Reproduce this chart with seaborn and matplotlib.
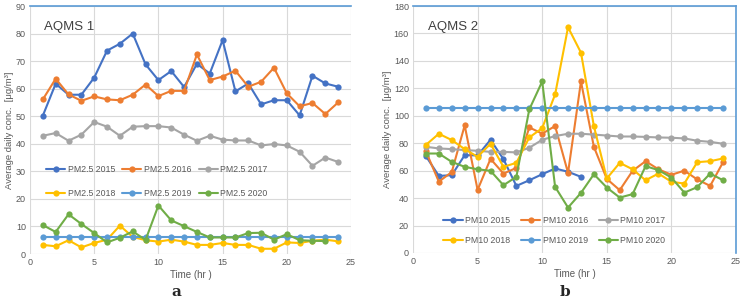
import numpy as np
import pandas as pd
import matplotlib
matplotlib.use("Agg")
import matplotlib.pyplot as plt
import seaborn as sns

hours = list(range(1, 25))
nan = np.nan

# AQMS 1 - PM2.5
pm25_2015 = [50.2, 61.8, 57.8, 57.8, 64.0, 73.8, 76.3, 80.0, 68.8, 63.1, 66.4, 60.6,
             69.0, 65.5, 77.6, 59.0, 61.9, 54.3, 55.8, 55.8, 50.3, 64.7, 61.9, 60.7]
pm25_2016 = [56.1, 63.6, 57.9, 55.6, 57.2, 56.1, 55.8, 57.8, 61.5, 57.3, 59.2, 59.2,
             72.4, 63.1, 64.4, 66.5, 60.7, 62.5, 67.6, 58.3, 53.6, 54.8, 50.8, 55.0]
pm25_2017 = [42.9, 43.9, 41.1, 43.3, 47.9, 46.2, 42.9, 46.2, 46.4, 46.4, 45.9, 43.3,
             41.1, 42.9, 41.5, 41.2, 41.2, 39.4, 39.9, 39.4, 37.1, 32.0, 35.0, 33.4]
pm25_2018 = [3.3, 2.8, 5.0, 2.4, 4.0, 5.2, 10.3, 6.2, 5.0, 4.5, 5.2, 4.5,
             3.3, 3.3, 4.0, 3.3, 3.3, 1.9, 1.9, 4.2, 4.0, 4.8, 5.2, 4.6]
pm25_2019 = [6.2] * 24
pm25_2020 = [10.5, 8.0, 14.4, 10.9, 7.6, 4.2, 5.9, 8.2, 5.1, 17.6, 12.2, 10.1,
             8.0, 6.0, 6.0, 6.0, 7.6, 7.7, 5.2, 7.2, 5.0, 4.8, 4.7, nan]

# AQMS 2 - PM10
pm10_2015 = [70.6, 56.2, 56.7, 71.3, 71.1, 82.5, 68.4, 48.9, 53.0, 57.4, 61.6, 59.2,
             55.5, nan, nan, nan, nan, nan, nan, nan, nan, nan, nan, nan]
pm10_2016 = [74.0, 52.0, 59.0, 93.0, 46.0, 68.6, 57.9, 62.0, 91.5, 87.0, 92.5, 58.4,
             125.0, 77.4, 54.0, 45.8, 59.9, 66.9, 61.0, 57.0, 60.0, 53.6, 48.9, 66.2]
pm10_2017 = [77.4, 76.2, 75.7, 75.0, 74.5, 73.7, 73.7, 73.3, 76.7, 82.5, 85.2, 86.9,
             86.9, 86.3, 85.6, 84.9, 84.9, 84.6, 84.2, 84.0, 83.5, 81.8, 81.0, 79.6]
pm10_2018 = [78.8, 86.9, 82.3, 75.7, 70.1, 79.6, 62.8, 65.7, 84.2, 91.0, 115.6, 164.5,
             146.0, 92.5, 54.3, 65.7, 61.0, 53.0, 57.9, 51.9, 50.6, 66.2, 66.9, 68.9]
pm10_2019 = [105.5] * 24
pm10_2020 = [72.5, 72.5, 66.4, 62.8, 61.0, 59.9, 49.4, 55.5, 104.6, 125.0, 48.2, 33.1,
             43.8, 57.4, 47.7, 40.4, 42.9, 63.3, 60.4, 55.0, 44.0, 48.0, 57.9, 53.0]

years = ["2015", "2016", "2017", "2018", "2019", "2020"]
colors = ["#4472C4", "#ED7D31", "#A5A5A5", "#FFC000", "#5B9BD5", "#70AD47"]

sns.set_style("white")
plt.rcParams['font.family'] = ['Liberation Sans', 'DejaVu Sans']

W, H = 741, 301
fig = plt.figure(figsize=(W / 100, H / 100), dpi=100)


def px_axes(x0, y0, x1, y1):
    return fig.add_axes([x0 / W, 1 - y1 / H, (x1 - x0) / W, (y1 - y0) / H])


def draw_panel(ax, series, prefix, ymax, ystep, title, leg_anchor, leg_spacing, colsp):
    for name, vals, col in zip(years, series, colors):
        df = pd.DataFrame({"hour": hours, "val": vals})
        sns.lineplot(data=df, x="hour", y="val", ax=ax, color=col, marker="o",
                     markersize=4.5, markeredgewidth=0, linewidth=1.5,
                     label=f"{prefix} {name}")
    ax.set_xlim(0, 25)
    ax.set_ylim(0, ymax)
    ax.set_xticks(range(0, 26, 5))
    ax.set_yticks(range(0, ymax + 1, ystep))
    ax.grid(True, color="#d9d9d9", linewidth=0.8)
    ax.set_axisbelow(True)
    for s in ["left", "bottom", "right"]:
        ax.spines[s].set_visible(False)
    ax.spines["top"].set_color("#5B9BD5")
    ax.spines["top"].set_linewidth(1.2)
    ax.tick_params(axis="both", length=0, labelsize=6.5, labelcolor="#595959", pad=3)
    ax.set_xlabel("Time (hr )", fontsize=7, color="#595959", labelpad=2)
    ax.set_ylabel("Average daily conc.  [\u03bcg/m\u00b3]", fontsize=6.8,
                  color="#595959", labelpad=1)
    ax.text(0.045, 0.94, title, transform=ax.transAxes, fontsize=9.5,
            color="#404040", va="top")
    handles, labels = ax.get_legend_handles_labels()
    order = [0, 3, 1, 4, 2, 5]
    leg = ax.legend([handles[i] for i in order], [labels[i] for i in order],
                    loc="upper left", bbox_to_anchor=leg_anchor, ncol=3,
                    frameon=False, fontsize=6.3, handlelength=2.2,
                    columnspacing=colsp, labelspacing=leg_spacing, handletextpad=0.3)
    for t in leg.get_texts():
        t.set_color("#595959")


ax1 = px_axes(30, 6, 351, 254)
draw_panel(ax1, [pm25_2015, pm25_2016, pm25_2017, pm25_2018, pm25_2019, pm25_2020],
           "PM2.5", 90, 10, "AQMS 1", (0.025, 0.39), 1.75, 0.8)

ax2 = px_axes(413, 6, 736, 253)
draw_panel(ax2, [pm10_2015, pm10_2016, pm10_2017, pm10_2018, pm10_2019, pm10_2020],
           "PM10", 180, 20, "AQMS 2", (0.07, 0.18), 1.25, 1.2)
ax2.spines["right"].set_visible(True)
ax2.spines["right"].set_color("#5B9BD5")
ax2.spines["right"].set_linewidth(1.2)

fig.text(176 / W, 1 - 292 / H, "a", fontsize=11, fontweight="bold",
         family="DejaVu Serif", ha="center", va="center")
fig.text(565 / W, 1 - 292 / H, "b", fontsize=11, fontweight="bold",
         family="DejaVu Serif", ha="center", va="center")

fig.savefig("out.png", dpi=100)
